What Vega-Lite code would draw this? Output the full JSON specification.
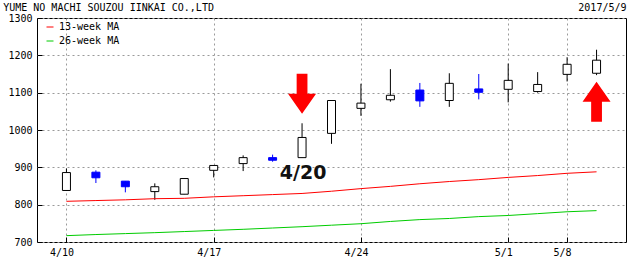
{
  "$schema": "https://vega.github.io/schema/vega-lite/v6.json",
  "width": 589,
  "height": 224,
  "autosize": "none",
  "padding": {"left": 37, "top": 18, "right": 8, "bottom": 15},
  "background": "white",
  "config": {
    "view": {"stroke": "#000000", "strokeWidth": 1},
    "font": "DejaVu Sans Mono",
    "axis": {
      "labelFont": "DejaVu Sans Mono", "labelFontSize": 10, "labelColor": "#000000",
      "domain": false, "tickColor": "#000000", "tickSize": -5, "labelPadding": 10,
      "labelOverlap": false, "labelFlush": false,
      "gridColor": "#9a9a9a", "gridDash": [2, 3], "gridWidth": 1,
      "titleFont": "DejaVu Sans Mono", "titleFontSize": 10, "titleFontWeight": "normal", "titleColor": "#000000"
    },
    "axisY": {"tickCount": 7}
  },
  "datasets": {
    "candles": [
      {"date": "4/10", "open": 838, "high": 897, "low": 838, "close": 886},
      {"date": "4/11", "open": 887, "high": 892, "low": 858, "close": 872},
      {"date": "4/12", "open": 863, "high": 863, "low": 833, "close": 848},
      {"date": "4/13", "open": 835, "high": 857, "low": 813, "close": 848},
      {"date": "4/14", "open": 828, "high": 870, "low": 828, "close": 870},
      {"date": "4/17", "open": 892, "high": 905, "low": 873, "close": 905},
      {"date": "4/18", "open": 910, "high": 932, "low": 890, "close": 926},
      {"date": "4/19", "open": 926, "high": 934, "low": 915, "close": 919},
      {"date": "4/20", "open": 926, "high": 1018, "low": 926, "close": 980},
      {"date": "4/21", "open": 991, "high": 1079, "low": 963, "close": 1079},
      {"date": "4/24", "open": 1058, "high": 1124, "low": 1038, "close": 1072},
      {"date": "4/25", "open": 1081, "high": 1163, "low": 1076, "close": 1093},
      {"date": "4/26", "open": 1107, "high": 1126, "low": 1062, "close": 1078},
      {"date": "4/27", "open": 1079, "high": 1152, "low": 1062, "close": 1125},
      {"date": "4/28", "open": 1110, "high": 1150, "low": 1082, "close": 1101},
      {"date": "5/1", "open": 1109, "high": 1178, "low": 1074, "close": 1133},
      {"date": "5/2", "open": 1103, "high": 1155, "low": 1100, "close": 1122},
      {"date": "5/8", "open": 1149, "high": 1195, "low": 1130, "close": 1176},
      {"date": "5/9", "open": 1152, "high": 1215, "low": 1147, "close": 1187}
    ],
    "ma": [
      {"date": "4/10", "series": "13-week MA", "value": 809},
      {"date": "4/11", "series": "13-week MA", "value": 811},
      {"date": "4/12", "series": "13-week MA", "value": 813},
      {"date": "4/13", "series": "13-week MA", "value": 816},
      {"date": "4/14", "series": "13-week MA", "value": 817},
      {"date": "4/17", "series": "13-week MA", "value": 821},
      {"date": "4/18", "series": "13-week MA", "value": 824},
      {"date": "4/19", "series": "13-week MA", "value": 827},
      {"date": "4/20", "series": "13-week MA", "value": 830},
      {"date": "4/21", "series": "13-week MA", "value": 836},
      {"date": "4/24", "series": "13-week MA", "value": 843},
      {"date": "4/25", "series": "13-week MA", "value": 849},
      {"date": "4/26", "series": "13-week MA", "value": 856},
      {"date": "4/27", "series": "13-week MA", "value": 862},
      {"date": "4/28", "series": "13-week MA", "value": 867},
      {"date": "5/1", "series": "13-week MA", "value": 873},
      {"date": "5/2", "series": "13-week MA", "value": 878},
      {"date": "5/8", "series": "13-week MA", "value": 884},
      {"date": "5/9", "series": "13-week MA", "value": 888},
      {"date": "4/10", "series": "26-week MA", "value": 717},
      {"date": "4/11", "series": "26-week MA", "value": 720},
      {"date": "4/12", "series": "26-week MA", "value": 722.5},
      {"date": "4/13", "series": "26-week MA", "value": 725},
      {"date": "4/14", "series": "26-week MA", "value": 728},
      {"date": "4/17", "series": "26-week MA", "value": 731},
      {"date": "4/18", "series": "26-week MA", "value": 734},
      {"date": "4/19", "series": "26-week MA", "value": 737.5},
      {"date": "4/20", "series": "26-week MA", "value": 741},
      {"date": "4/21", "series": "26-week MA", "value": 745},
      {"date": "4/24", "series": "26-week MA", "value": 749},
      {"date": "4/25", "series": "26-week MA", "value": 755},
      {"date": "4/26", "series": "26-week MA", "value": 760},
      {"date": "4/27", "series": "26-week MA", "value": 763},
      {"date": "4/28", "series": "26-week MA", "value": 768},
      {"date": "5/1", "series": "26-week MA", "value": 771},
      {"date": "5/2", "series": "26-week MA", "value": 776},
      {"date": "5/8", "series": "26-week MA", "value": 781},
      {"date": "5/9", "series": "26-week MA", "value": 784}
    ],
    "arrows": [
      {"date": "4/20", "y": 1097, "dir": "down"},
      {"date": "5/9", "y": 1076, "dir": "up"}
    ],
    "notes": [
      {"date": "4/20", "y": 870, "text": "4/20"}
    ]
  },
  "encoding": {
    "x": {
      "field": "date", "type": "nominal",
      "scale": {"type": "point", "padding": 1, "domain": ["4/10","4/11","4/12","4/13","4/14","4/17","4/18","4/19","4/20","4/21","4/24","4/25","4/26","4/27","4/28","5/1","5/2","5/8","5/9"]},
      "axis": {
        "values": ["4/10", "4/17", "4/24", "5/1", "5/8"], "labelAngle": 0, "labelOffset": -5,
        "labelBaseline": "top", "grid": true,
        "title": "2017/5/9", "titleX": 589, "titleY": -231.3, "titleAlign": "right", "titleBaseline": "alphabetic", "titleAnchor": "end"
      }
    }
  },
  "layer": [
    {
      "data": {"name": "candles"},
      "mark": {"type": "rule", "strokeWidth": 1},
      "encoding": {
        "y": {
          "field": "low", "type": "quantitative",
          "scale": {"domain": [700, 1300], "zero": false, "nice": false},
          "axis": {
            "values": [700, 800, 900, 1000, 1100, 1200, 1300], "tickCount": 7, "grid": true, "format": "d",
            "title": "YUME NO MACHI SOUZOU IINKAI CO.,LTD", "titleAngle": 0, "titleX": -34.3, "titleY": -7.3,
            "titleAlign": "left", "titleBaseline": "alphabetic", "titleAnchor": "start"
          }
        },
        "y2": {"field": "high"},
        "color": {"condition": {"test": "datum.close < datum.open", "value": "#0000ff"}, "value": "#000000"}
      }
    },
    {
      "data": {"name": "candles"},
      "mark": {"type": "bar", "width": 8, "strokeWidth": 1},
      "encoding": {
        "y": {"field": "open", "type": "quantitative"},
        "y2": {"field": "close"},
        "fill": {"condition": {"test": "datum.close < datum.open", "value": "#0000ff"}, "value": "#ffffff"},
        "stroke": {"condition": {"test": "datum.close < datum.open", "value": "#0000ff"}, "value": "#000000"}
      }
    },
    {
      "data": {"name": "ma"},
      "mark": {"type": "line", "strokeWidth": 1},
      "encoding": {
        "y": {"field": "value", "type": "quantitative"},
        "color": {
          "field": "series", "type": "nominal",
          "scale": {"domain": ["13-week MA", "26-week MA"], "range": ["#ff0000", "#00cc00"]},
          "legend": {
            "orient": "none", "legendX": 8, "legendY": 4, "title": null,
            "symbolType": "stroke", "symbolSize": 49, "symbolStrokeWidth": 1,
            "labelFont": "DejaVu Sans Mono", "labelFontSize": 10, "labelColor": "#000000",
            "labelOffset": 4, "rowPadding": 4, "padding": 0
          }
        }
      }
    },
    {
      "data": {"name": "arrows"},
      "mark": {"type": "point", "filled": true, "size": 1600, "opacity": 1, "strokeWidth": 0},
      "encoding": {
        "y": {"field": "y", "type": "quantitative"},
        "color": {"value": "#ff0000"},
        "shape": {
          "field": "dir", "type": "nominal", "legend": null,
          "scale": {"domain": ["down", "up"], "range": ["M-0.27,-1L0.27,-1L0.27,0L0.7,0L0,1L-0.7,0L-0.27,0Z", "M-0.27,1L0.27,1L0.27,0L0.7,0L0,-1L-0.7,0L-0.27,0Z"]}
        }
      }
    },
    {
      "data": {"name": "notes"},
      "mark": {"type": "text", "font": "DejaVu Sans", "fontWeight": "bold", "fontSize": 19, "baseline": "alphabetic", "align": "center", "dx": 1, "color": "#111111"},
      "encoding": {
        "y": {"field": "y", "type": "quantitative"},
        "text": {"field": "text"}
      }
    }
  ]
}
